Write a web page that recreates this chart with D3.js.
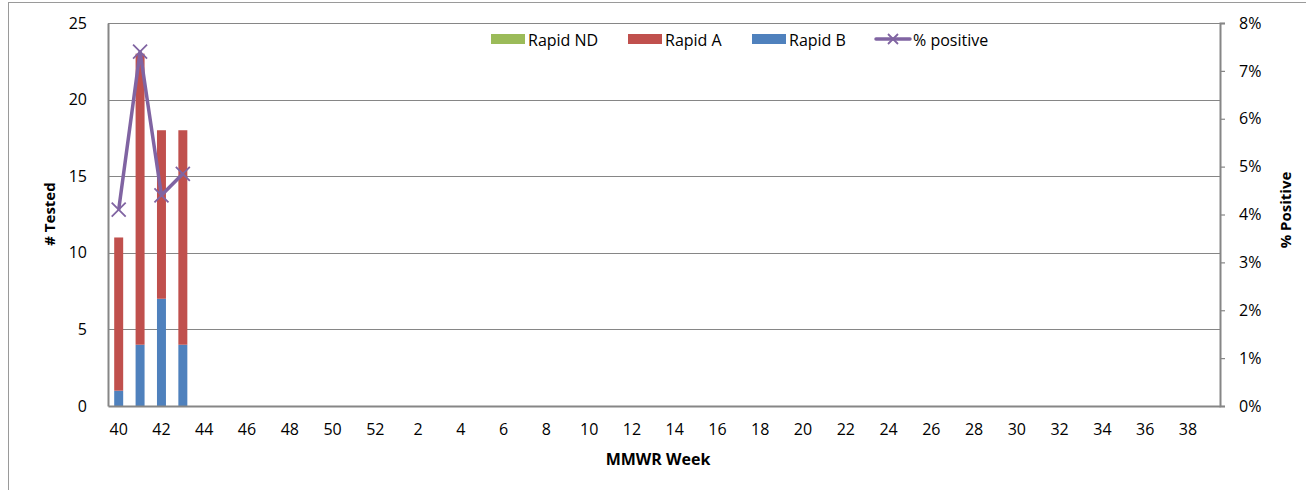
<!DOCTYPE html>
<html>
<head>
<meta charset="utf-8">
<script src="https://cdn.jsdelivr.net/npm/d3@7/dist/d3.min.js"></script>
<style>
  body { margin: 0; background: #fff; }
  text { font-family: "Open Sans", sans-serif; fill: #000; }
</style>
</head>
<body>
<svg id="chart" width="1306" height="490"></svg>
<script>
"use strict";

// MMWR weeks on the x axis
const weeks = [40, 41, 42, 43, 44, 45, 46, 47, 48, 49, 50, 51, 52,
               1, 2, 3, 4, 5, 6, 7, 8, 9, 10, 11, 12, 13, 14, 15, 16, 17, 18, 19, 20,
               21, 22, 23, 24, 25, 26, 27, 28, 29, 30, 31, 32, 33, 34, 35, 36, 37, 38, 39];
const tickWeeks = [40, 42, 44, 46, 48, 50, 52, 2, 4, 6, 8, 10, 12, 14, 16, 18, 20,
                   22, 24, 26, 28, 30, 32, 34, 36, 38];

// reported weeks only
const dataWeeks = [40, 41, 42, 43];
const rapidB = [1, 4, 7, 4];
const rapidA = [10, 19, 11, 14];
const rapidND = [0, 0, 0, 0];
const pctPositive = [0.041, 0.074, 0.044, 0.0485];

const leftTicks = [0, 5, 10, 15, 20, 25];
const rightTicks = [0, 0.01, 0.02, 0.03, 0.04, 0.05, 0.06, 0.07, 0.08];

const colors = {nd: "#9BBB59", a: "#C0504D", b: "#4F81BD", pct: "#8064A2"};

const svg = d3.select("#chart");
const plotL = 108, plotR = 1220, plotT = 23, plotB = 406;

// outer frame
svg.append("rect")
   .attr("x", 8.5).attr("y", 2.5)
   .attr("width", 1310).attr("height", 500)
   .attr("fill", "none").attr("stroke", "#9a9a9a").attr("stroke-width", 1);

const x = d3.scaleBand().domain(weeks).range([plotL, plotR]);
const y = d3.scaleLinear().domain([0, 25]).range([plotB, plotT]);
const y2 = d3.scaleLinear().domain([0, 0.08]).range([plotB, plotT]);

// gridlines
svg.append("g")
   .selectAll("line")
   .data(leftTicks.slice(1))
   .enter()
   .append("line")
   .attr("x1", plotL).attr("x2", plotR)
   .attr("y1", d => Math.round(y(d)) + 0.5)
   .attr("y2", d => Math.round(y(d)) + 0.5)
   .attr("stroke", "#868686").attr("stroke-width", 1.2);

// stacked bars
const stackData = dataWeeks.map((w, i) => ({week: w, b: rapidB[i], a: rapidA[i], nd: rapidND[i]}));
const series = d3.stack().keys(["b", "a", "nd"])(stackData);
const barW = x.bandwidth() * 0.42;

svg.append("g")
   .selectAll("g")
   .data(series)
   .enter()
   .append("g")
   .attr("fill", d => colors[d.key])
   .selectAll("rect")
   .data(d => d)
   .enter()
   .append("rect")
   .attr("x", d => x(d.data.week) + x.bandwidth() / 2 - barW / 2)
   .attr("width", barW)
   .attr("y", d => y(d[1]))
   .attr("height", d => y(d[0]) - y(d[1]));

// axes
const leftAxis = svg.append("g")
   .attr("transform", "translate(" + plotL + ",0)")
   .call(d3.axisLeft(y).tickValues(leftTicks).tickSize(0).tickPadding(21));

const rightAxis = svg.append("g")
   .attr("transform", "translate(" + plotR + ",0)")
   .call(d3.axisRight(y2).tickValues(rightTicks).tickSize(5).tickPadding(14)
          .tickFormat(d3.format(".0%")));

const bottomAxis = svg.append("g")
   .attr("transform", "translate(0," + plotB + ")")
   .call(d3.axisBottom(x).tickValues(tickWeeks).tickSize(0).tickPadding(18));

[leftAxis, rightAxis, bottomAxis].forEach(function(ax) {
    ax.select(".domain").attr("stroke", "#868686").attr("stroke-width", 2);
    ax.selectAll(".tick line").attr("stroke", "#868686").attr("stroke-width", 1.2);
    ax.selectAll("text").style("font-size", "16px").attr("fill", "#000");
});

// % positive line
const linePts = dataWeeks.map((w, i) => [x(w) + x.bandwidth() / 2, y2(pctPositive[i])]);
svg.append("path")
   .datum(linePts)
   .attr("d", d3.line())
   .attr("fill", "none")
   .attr("stroke", colors.pct)
   .attr("stroke-width", 3.5)
   .attr("stroke-linejoin", "round");

function drawX(g, cx, cy, s) {
    g.append("path")
     .attr("d", "M" + (cx - s) + "," + (cy - s) + "L" + (cx + s) + "," + (cy + s) +
                "M" + (cx - s) + "," + (cy + s) + "L" + (cx + s) + "," + (cy - s))
     .attr("stroke", colors.pct).attr("stroke-width", 1.8).attr("fill", "none");
}
const markers = svg.append("g");
linePts.forEach(p => drawX(markers, p[0], p[1], 7));

// axis titles
svg.append("text")
   .attr("transform", "translate(55,214) rotate(-90)")
   .attr("text-anchor", "middle")
   .style("font-size", "15px").style("font-weight", "bold")
   .text("# Tested");

svg.append("text")
   .attr("transform", "translate(1291,210) rotate(-90)")
   .attr("text-anchor", "middle")
   .style("font-size", "15px").style("font-weight", "bold")
   .text("% Positive");

svg.append("text")
   .attr("x", 658).attr("y", 465)
   .attr("text-anchor", "middle")
   .style("font-size", "16px").style("font-weight", "bold")
   .text("MMWR Week");

// legend
const legendItems = [
    {name: "Rapid ND", color: colors.nd, x: 491},
    {name: "Rapid A", color: colors.a, x: 628},
    {name: "Rapid B", color: colors.b, x: 752}
];
const legend = svg.append("g");
legendItems.forEach(function(d) {
    legend.append("rect")
          .attr("x", d.x).attr("y", 34).attr("width", 34).attr("height", 10)
          .attr("fill", d.color);
    legend.append("text")
          .attr("x", d.x + 37).attr("y", 46)
          .style("font-size", "16px")
          .text(d.name);
});
legend.append("line")
      .attr("x1", 876).attr("x2", 910).attr("y1", 39).attr("y2", 39)
      .attr("stroke", colors.pct).attr("stroke-width", 3.5).attr("stroke-linecap", "round");
drawX(legend, 893, 39, 5);
legend.append("text")
      .attr("x", 913).attr("y", 46)
      .style("font-size", "16px")
      .text("% positive");
</script>
</body>
</html>
